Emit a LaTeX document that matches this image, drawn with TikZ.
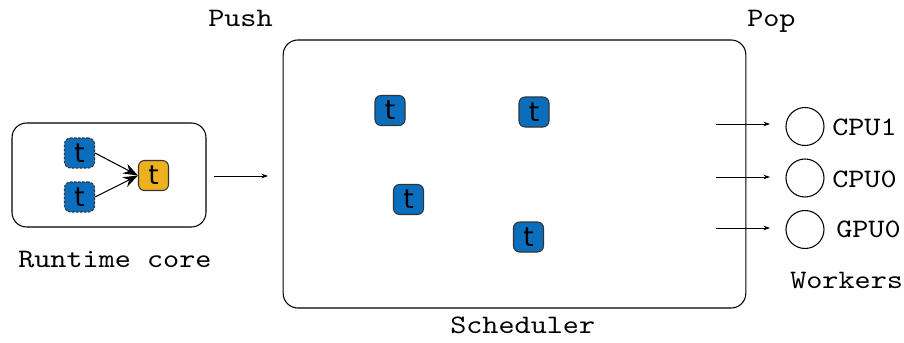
\documentclass[tikz,border=0pt]{standalone}
\usepackage{fontspec}
\setmonofont{lmmono10-regular.otf}[FakeStretch=1.15]
\newfontfamily\tfont{DejaVu Sans}
\usetikzlibrary{arrows.meta}
\definecolor{tblue}{HTML}{0A6EBD}
\definecolor{torange}{HTML}{EDB120}
\begin{document}
\begin{tikzpicture}[x=0.75pt,y=-0.75pt,
  task/.style={draw=black!80,line width=0.8pt,fill=tblue,rounded corners=4.5pt,
    minimum width=22.5pt,minimum height=22.5pt,inner sep=0pt,font=\tfont\fontsize{20}{20}\selectfont},
  dtask/.style={task,dashed,dash pattern=on 2pt off 1pt},
  otask/.style={task,fill=torange},
  panel/.style={draw,line width=0.8pt,rounded corners=11pt},
  lbl/.style={anchor=base west,inner sep=0pt,font=\ttfamily\fontsize{20}{20}\selectfont},
  worker/.style={draw,line width=0.8pt,circle,minimum size=28.5pt,inner sep=0pt},
  conn/.style={-{Stealth[length=5pt,width=3.5pt]},line width=0.6pt},
  dep/.style={-{Stealth[length=11pt,width=8pt]},line width=0.8pt}]
\useasboundingbox (0,0) rectangle (904,343);
% runtime core
\node[panel,minimum width=145.5pt,minimum height=78pt] (rc) at (109,175) {};
\node[dtask] (a) at (79.5,153) {t};
\node[dtask] (b) at (79.5,197) {t};
\node[otask] (c) at (153.5,175.5) {t};
\draw[dep] (a.east) -- (c.west);
\draw[dep] (b.east) -- (c.west);
\node[lbl] (rclbl) at (18,267) {Runtime core};
% scheduler
\node[panel,minimum width=347pt,minimum height=201pt] (sch) at (514.5,174) {};
\node[task] (s1) at (390,110.5) {t};
\node[task] (s2) at (534,112) {t};
\node[task] (s3) at (408.5,199.5) {t};
\node[task] (s4) at (528.5,237) {t};
\node[lbl] (schlbl) at (450,333) {Scheduler};
\node[lbl] (push) at (208,26) {Push};
\node[lbl] (pop) at (747,26) {Pop};
% push arrow
\coordinate (p0) at (214,176);
\coordinate (p1) at (268,176);
\draw[conn] (p0) -- (p1);
% workers
\node[worker] (w1) at (805,126.5) {};
\node[worker] (w2) at (805,178) {};
\node[worker] (w3) at (805,229.5) {};
\coordinate (o1) at (716,124);
\coordinate (o2) at (716,177);
\coordinate (o3) at (716,228);
\coordinate (e1) at (770,124);
\coordinate (e2) at (770,177);
\coordinate (e3) at (770,228);
\draw[conn] (o1) -- (e1);
\draw[conn] (o2) -- (e2);
\draw[conn] (o3) -- (e3);
\node[lbl] (l1) at (832,135) {CPU1};
\node[lbl] (l2) at (832,187) {CPU0};
\node[lbl] (l3) at (836,237) {GPU0};
\node[lbl] (wl) at (790,288) {Workers};
\end{tikzpicture}
\end{document}
